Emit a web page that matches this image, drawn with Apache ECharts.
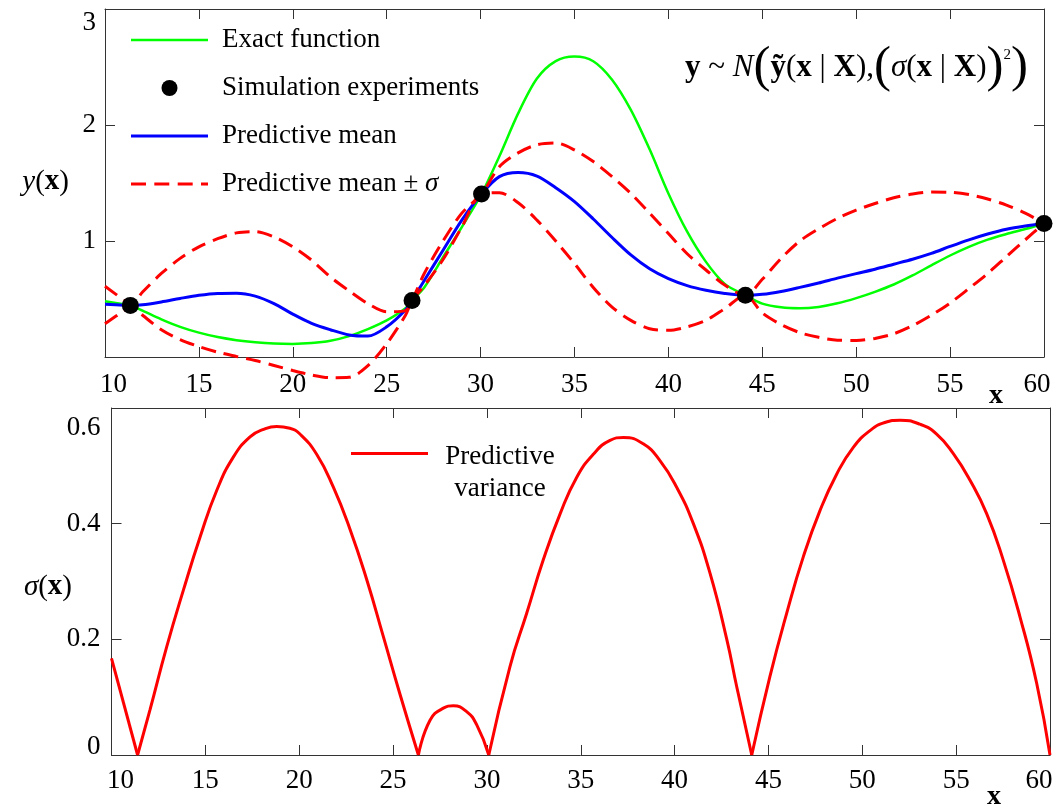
<!DOCTYPE html>
<html>
<head>
<meta charset="utf-8">
<title>Kriging prediction</title>
<script src="https://cdn.jsdelivr.net/npm/echarts@6.0.0/dist/echarts.min.js"></script>
<style>
  html, body { margin: 0; padding: 0; background: #fff; }
  #chart { width: 1064px; height: 805px; }
</style>
</head>
<body>
<div id="chart"></div>
<script>
// x positions for the top panel (integers plus the sample locations)
const xTop = [10, 11, 11.35, 12, 13, 14, 15, 16, 17, 18,
  19, 20, 21, 22, 23, 24, 25, 26, 26.35, 27,
  28, 29, 30.05, 31, 32, 33, 34, 35, 36, 37,
  38, 39, 40, 41, 42, 43, 44.1, 45, 46, 47,
  48, 49, 50, 51, 52, 53, 54, 55, 56, 57,
  58, 59, 60]

const exactY = [0.48, 0.455, 0.445, 0.40, 0.325, 0.26, 0.21, 0.172, 0.145, 0.127,
  0.116, 0.113, 0.12, 0.14, 0.18, 0.24, 0.315, 0.42, 0.488, 0.6,
  0.86, 1.12, 1.405, 1.73, 2.1, 2.4, 2.55, 2.59, 2.55, 2.39,
  2.13, 1.79, 1.41, 1.08, 0.82, 0.63, 0.532, 0.46, 0.428, 0.42,
  0.432, 0.463, 0.508, 0.562, 0.625, 0.703, 0.79, 0.875, 0.95, 1.012,
  1.06, 1.103, 1.151]

const meanY = [0.454, 0.447, 0.445, 0.45, 0.475, 0.505, 0.532, 0.548, 0.55, 0.525,
  0.46, 0.37, 0.29, 0.235, 0.19, 0.18, 0.26, 0.405, 0.488, 0.66,
  0.92, 1.18, 1.405, 1.555, 1.59, 1.56, 1.46, 1.34, 1.19, 1.03,
  0.88, 0.76, 0.675, 0.615, 0.575, 0.548, 0.532, 0.54, 0.565, 0.6,
  0.638, 0.68, 0.719, 0.757, 0.8, 0.843, 0.893, 0.953, 1.01, 1.06,
  1.102, 1.13, 1.151]

const upperY = [0.61, 0.49, 0.445, 0.56, 0.72, 0.85, 0.95, 1.02, 1.07, 1.08,
  1.035, 0.95, 0.835, 0.69, 0.57, 0.46, 0.39, 0.40, 0.488, 0.72,
  1.0, 1.24, 1.405, 1.64, 1.76, 1.83, 1.845, 1.785, 1.685, 1.555,
  1.41, 1.24, 1.065, 0.89, 0.75, 0.62, 0.532, 0.67, 0.85, 1.0,
  1.105, 1.195, 1.266, 1.323, 1.373, 1.405, 1.422, 1.42, 1.40, 1.362,
  1.31, 1.24, 1.151]

const lowerY = [0.287, 0.40, 0.445, 0.36, 0.235, 0.15, 0.09, 0.042, 0.005, -0.03,
  -0.073, -0.117, -0.155, -0.178, -0.175, -0.075, 0.114, 0.36, 0.488, 0.615,
  0.84, 1.12, 1.405, 1.416, 1.33, 1.18, 1.0, 0.805, 0.60, 0.43,
  0.316, 0.244, 0.23, 0.26, 0.316, 0.417, 0.532, 0.38, 0.28, 0.21,
  0.17, 0.145, 0.143, 0.16, 0.2, 0.27, 0.36, 0.465, 0.59, 0.72,
  0.865, 1.01, 1.151]

// simulation experiments
const expX = [11.35, 26.35, 30.05, 44.1, 60]
const expY = [0.445, 0.488, 1.405, 0.532, 1.151]

// predictive standard deviation (bottom panel)
const sigmaX = [10, 11.39, 12.05, 12.94, 13.83, 14.72, 15.6, 16.49, 17.38, 18.1,
  18.8, 19.5, 20.04, 20.93, 21.82, 22.71, 23.6, 24.48, 25.37, 26.35,
  26.97, 27.68, 28.21, 28.92, 29.46, 30.1, 31.23, 32.12, 33.0, 33.9,
  34.78, 35.67, 36.56, 37.27, 38.33, 39.22, 40.11, 41.0, 41.89, 42.78,
  43.31, 44.11, 45.08, 45.97, 46.86, 47.75, 48.64, 49.52, 50.41, 51.2,
  52.01, 53.07, 53.96, 54.85, 55.74, 56.63, 57.51, 58.4, 59.29, 60]
const sigmaY = [0.167, 0, 0.078, 0.187, 0.285, 0.377, 0.457, 0.515, 0.55, 0.563,
  0.568, 0.565, 0.555, 0.52, 0.463, 0.39, 0.303, 0.205, 0.105, 0,
  0.06, 0.081, 0.085, 0.075, 0.052, 0, 0.153, 0.245, 0.337, 0.417,
  0.48, 0.52, 0.544, 0.549, 0.538, 0.509, 0.463, 0.4, 0.314, 0.2,
  0.118, 0, 0.136, 0.245, 0.343, 0.423, 0.486, 0.532, 0.561, 0.575,
  0.579, 0.572, 0.555, 0.521, 0.475, 0.417, 0.337, 0.239, 0.124, 0]

const FONT = 'Liberation Serif'
const AXIS_COLOR = '#333'
const pairs = (xs, ys) => xs.map((x, i) => [x, ys[i]])
const txt = (extra) => Object.assign({ fontFamily: FONT, fontSize: 27, color: '#000' }, extra)

// split sigma at its zeros so each lobe is smoothed on its own and the cusps stay sharp
const sigmaLobes = []
let lobe = []
sigmaX.forEach((x, i) => {
  lobe.push([x, sigmaY[i]])
  if (sigmaY[i] === 0 && lobe.length > 1) {
    sigmaLobes.push(lobe)
    lobe = [[x, 0]]
  }
})
if (lobe.length > 1) sigmaLobes.push(lobe)

const baseX = (grid, position, labels, padL, padR, margin) => ({
  type: 'value',
  gridIndex: grid,
  position: position,
  min: 10,
  max: 60,
  interval: 5,
  axisLine: { onZero: false, lineStyle: { color: AXIS_COLOR, width: 1 } },
  axisTick: { inside: true, length: 10, lineStyle: { color: AXIS_COLOR } },
  splitLine: { show: false },
  axisLabel: {
    show: labels,
    margin: margin,
    fontFamily: FONT,
    fontSize: 27,
    color: '#000',
    formatter: v => v === 10 ? '{l|10}' : v === 60 ? '{r|60}' : String(v),
    rich: {
      l: txt({ padding: [0, 0, 0, padL] }),
      r: txt({ padding: [0, padR, 0, 0] })
    }
  }
})

const baseY = (grid, position, min, max, interval, label) => ({
  type: 'value',
  gridIndex: grid,
  position: position,
  min: min,
  max: max,
  interval: interval,
  axisLine: { show: true, onZero: false, lineStyle: { color: AXIS_COLOR, width: 1 } },
  axisTick: { show: true, inside: true, length: 10, lineStyle: { color: AXIS_COLOR } },
  splitLine: { show: false },
  axisLabel: label || { show: false }
})

const topLine = (name, ys, color, width, z, dash) => ({
  name: name,
  type: 'line',
  xAxisIndex: 0,
  yAxisIndex: 0,
  data: pairs(xTop, ys),
  smooth: 0.3,
  symbol: 'none',
  clip: false,
  z: z,
  lineStyle: { color: color, width: width, type: dash || 'solid' },
  itemStyle: { color: color }
})

const chart = echarts.init(document.getElementById('chart'))

const option = {
  animation: false,
  backgroundColor: '#fff',
  grid: [
    { left: 105, top: 9, width: 939, height: 348 },
    { left: 111.5, top: 408, width: 938.5, height: 347 }
  ],
  xAxis: [
    baseX(0, 'bottom', true, 17, 14, 14),
    baseX(0, 'top', false, 0, 0, 8),
    baseX(1, 'bottom', true, 18, 22, 12),
    baseX(1, 'top', false, 0, 0, 8)
  ],
  yAxis: [
    baseY(0, 'left', 0, 3, 1, {
      margin: 9,
      fontFamily: FONT,
      fontSize: 27,
      color: '#000',
      formatter: v => v === 0 ? '' : v === 3 ? '{t|3}' : String(v),
      rich: { t: txt({ padding: [28, 0, 0, 0] }) }
    }),
    baseY(0, 'right', 0, 3, 1),
    baseY(1, 'left', 0, 0.6, 0.2, {
      margin: 11,
      fontFamily: FONT,
      fontSize: 27,
      color: '#000',
      formatter: v => v === 0 ? '{b|0}' : v > 0.55 ? '{t|0.6}' : v.toFixed(1),
      rich: {
        t: txt({ padding: [40, 0, 0, 0] }),
        b: txt({ padding: [0, 0, 16, 0] })
      }
    }),
    baseY(1, 'right', 0, 0.6, 0.2)
  ],
  legend: {
    orient: 'vertical',
    left: 131,
    top: 25,
    padding: 0,
    itemWidth: 77,
    itemHeight: 16,
    itemGap: 18,
    selectedMode: false,
    data: [
      { name: 'Exact function', icon: 'path://M0,0H77V2.5H0Z' },
      { name: 'Simulation experiments', icon: 'circle' },
      { name: 'Predictive mean', icon: 'path://M0,0H77V3H0Z' },
      { name: 'Predictive mean ± σ', icon: 'path://M0,0H15V3H0Z M23.3,0H38.3V3H23.3Z M46.7,0H61.7V3H46.7Z M70,0H77V3H70Z' }
    ],
    formatter: name => name === 'Predictive mean ± σ'
      ? '{t|Predictive mean ± }{s|σ}'
      : '{t|' + name + '}',
    textStyle: txt({
      lineHeight: 30,
      rich: {
        t: txt({ padding: [0, 0, 0, 9] }),
        s: txt({ fontStyle: 'italic' })
      }
    })
  },
  graphic: [
    {
      type: 'text',
      x: 1028,
      y: 68,
      style: {
        text: '{b|y} ~ {i|N}{p|(}{b|ỹ}({b|x} | {b|X}),{p|(}{i|σ}({b|x} | {b|X}){p|)}{sup|2}{p|)}',
        align: 'right',
        verticalAlign: 'middle',
        fontFamily: FONT,
        fontSize: 31,
        fill: '#000',
        rich: {
          b: { fontFamily: FONT, fontSize: 31, fontWeight: 'bold' },
          i: { fontFamily: FONT, fontSize: 31, fontStyle: 'italic' },
          p: { fontFamily: FONT, fontSize: 51 },
          sup: { fontFamily: FONT, fontSize: 15, padding: [0, 0, 26, 0] }
        }
      }
    },
    {
      type: 'text',
      x: 69,
      y: 182,
      style: {
        text: '{i|y}({b|x})',
        align: 'right',
        verticalAlign: 'middle',
        fontFamily: FONT,
        fontSize: 29,
        fill: '#000',
        rich: {
          i: { fontFamily: FONT, fontSize: 29, fontStyle: 'italic' },
          b: { fontFamily: FONT, fontSize: 29, fontWeight: 'bold' }
        }
      }
    },
    {
      type: 'text',
      x: 72,
      y: 587,
      style: {
        text: '{i|σ}({b|x})',
        align: 'right',
        verticalAlign: 'middle',
        fontFamily: FONT,
        fontSize: 29,
        fill: '#000',
        rich: {
          i: { fontFamily: FONT, fontSize: 29, fontStyle: 'italic' },
          b: { fontFamily: FONT, fontSize: 29, fontWeight: 'bold' }
        }
      }
    },
    {
      type: 'text',
      x: 996,
      y: 396,
      style: { text: 'x', align: 'center', verticalAlign: 'middle', fontFamily: FONT, fontSize: 28, fontWeight: 'bold', fill: '#000' }
    },
    {
      type: 'text',
      x: 994,
      y: 797,
      style: { text: 'x', align: 'center', verticalAlign: 'middle', fontFamily: FONT, fontSize: 28, fontWeight: 'bold', fill: '#000' }
    },
    {
      type: 'line',
      shape: { x1: 351, y1: 453.5, x2: 428, y2: 453.5 },
      style: { stroke: '#ff0000', lineWidth: 3 }
    },
    {
      type: 'text',
      x: 500,
      y: 441,
      style: {
        text: 'Predictive\nvariance',
        align: 'center',
        verticalAlign: 'top',
        lineHeight: 32,
        fontFamily: FONT,
        fontSize: 27,
        fill: '#000'
      }
    }
  ],
  series: [
    topLine('Exact function', exactY, '#00ff00', 2.5, 2),
    topLine('Predictive mean', meanY, '#0000ff', 3, 3),
    topLine('Predictive mean ± σ', upperY, '#ff0000', 3, 4, [15, 8]),
    topLine('Predictive mean ± σ', lowerY, '#ff0000', 3, 4, [15, 8]),
    {
      name: 'Simulation experiments',
      type: 'scatter',
      xAxisIndex: 0,
      yAxisIndex: 0,
      data: pairs(expX, expY),
      symbol: 'circle',
      symbolSize: 17,
      clip: false,
      z: 5,
      itemStyle: { color: '#000', opacity: 1 }
    }
  ].concat(sigmaLobes.map(d => ({
    name: 'Predictive variance',
    type: 'line',
    xAxisIndex: 2,
    yAxisIndex: 2,
    data: d,
    smooth: 0.5,
    symbol: 'none',
    clip: false,
    lineStyle: { color: '#ff0000', width: 3 },
    itemStyle: { color: '#ff0000' }
  })))
}

chart.setOption(option)
</script>
</body>
</html>
